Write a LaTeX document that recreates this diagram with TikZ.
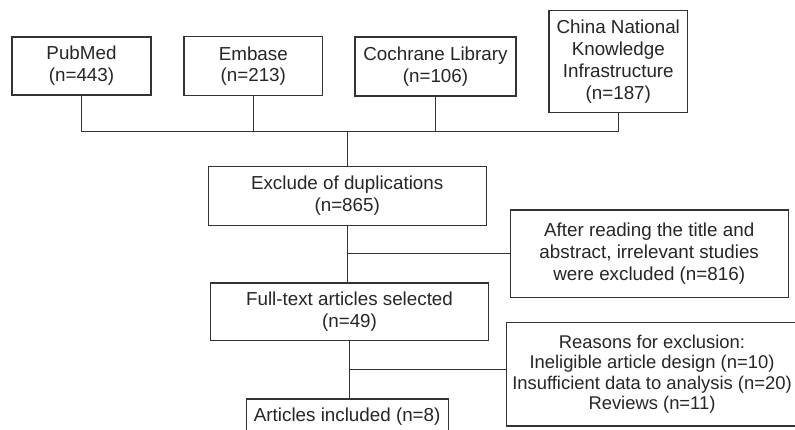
\documentclass[tikz,border=0pt]{standalone}
\usepackage{fontspec}
\setmainfont{Liberation Sans}
\begin{document}
\begin{tikzpicture}[x=1pt,y=-1pt,
  box/.style={draw=black!80, line width=1.1pt, rectangle, inner sep=0pt, align=center,
    text=black!85, font=\fontsize{18.8}{21.8}\selectfont},
  link/.style={draw=black!80, line width=1.1pt}]
\clip (0,0) rectangle (795,430);
\fill[white] (0,0) rectangle (795,430);
% sources
\node[box, minimum width=139pt, minimum height=58pt] (pub) at (81.5,66) {PubMed\\(n=443)};
\node[box, minimum width=138.7pt, minimum height=58.5pt] (emb) at (253.3,66.2) {Embase\\(n=213)};
\node[box, minimum width=161pt, minimum height=59pt] (coch) at (435.5,66.5) {Cochrane Library\\(n=106)};
\node[box, minimum width=138.7pt, minimum height=102.4pt] (cnki) at (618.3,61.5) {China National\\Knowledge\\Infrastructure\\(n=187)};
% main flow
\node[box, minimum width=277.7pt, minimum height=58.6pt] (excl) at (347.2,196) {Exclude of duplications\\(n=865)};
\node[box, minimum width=278.3pt, minimum height=87.3pt] (after) at (649.2,253.7) {After reading the title and\\abstract, irrelevant studies\\were excluded (n=816)};
\node[box, minimum width=277.6pt, minimum height=57.7pt] (full) at (349.5,311.9) {Full-text articles selected\\(n=49)};
\node[box, minimum width=291pt, minimum height=103.3pt, font=\fontsize{18.4}{20.2}\selectfont] (rea) at (652,374.3) {Reasons for exclusion:\\Ineligible article design (n=10)\\Insufficient data to analysis (n=20)\\Reviews (n=11)};
\node[box, minimum width=201.7pt, minimum height=35pt] (art) at (347.2,416.5) {Articles included (n=8)};
% connectors
\coordinate (bus) at (341.7,131.7);
\draw[link] (pub.south) -- (pub.south |- bus) -- (cnki.south |- bus) -- (cnki.south);
\draw[link] (emb.south) -- (emb.south |- bus);
\draw[link] (coch.south) -- (coch.south |- bus);
\draw[link] (excl.north |- bus) -- (excl.north);
\draw[link] (excl.south) -- (excl.south |- full.north);
\draw[link] (after.west) -- (after.west -| excl.south);
\draw[link] (full.south) -- (full.south |- art.north);
\coordinate (b2) at (349.5,369.7);
\draw[link] (b2) -- (b2 -| rea.west);
\end{tikzpicture}
\end{document}
